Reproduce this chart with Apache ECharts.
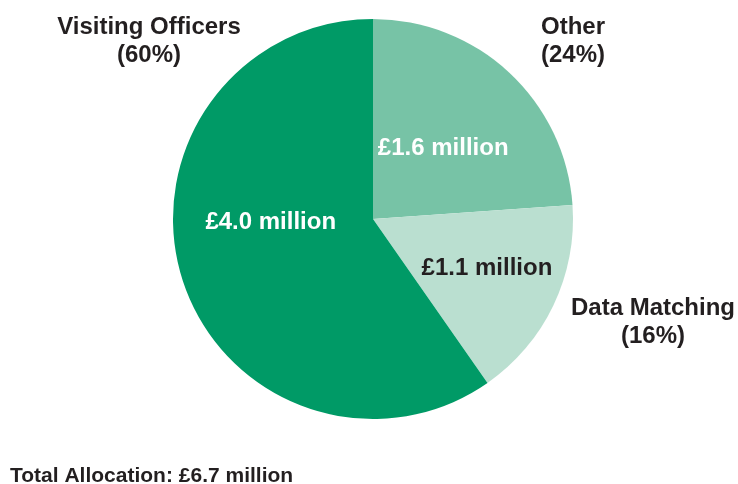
<!DOCTYPE html>
<html>
<head>
<meta charset="utf-8">
<script src="https://cdn.jsdelivr.net/npm/echarts@6/dist/echarts.min.js"></script>
<style>
  html, body { margin: 0; padding: 0; background: #ffffff; }
  #chart { width: 738px; height: 484px; }
</style>
</head>
<body>
<div id="chart"></div>
<script>
// Allocation by category, £ million (clockwise from 12 o'clock)
const categories = ['Other', 'Data Matching', 'Visiting Officers'];
const values = [1.6, 1.1, 4.0];
const colors = ['#77c3a6', '#badfd0', '#009a66'];
const totalLabel = 'Total Allocation: £6.7 million';

const total = values.reduce((a, b) => a + b, 0);
const pct = values.map(v => Math.round(v / total * 100));

// Label placement for the money figure inside each slice
const innerOffsets = [[0, 5], [21, 5], [-4, -28]];
const innerColors = ['#ffffff', '#231f20', '#ffffff'];
// Category captions outside the pie
const outerPos = [[573, 13], [653, 294], [149, 13]];

const font = '"Liberation Sans", Arial, sans-serif';

const chart = echarts.init(document.getElementById('chart'), null, { renderer: 'canvas' });

chart.setOption({
  animation: false,
  backgroundColor: '#ffffff',
  series: [{
    type: 'pie',
    center: [373, 219],
    radius: [0, 200],
    startAngle: 90,
    clockwise: true,
    silent: true,
    itemStyle: { borderWidth: 0 },
    labelLine: { show: false },
    data: categories.map((name, i) => ({
      name: name,
      value: values[i],
      itemStyle: { color: colors[i] },
      label: {
        show: true,
        position: 'inside',
        offset: innerOffsets[i],
        formatter: '£' + values[i].toFixed(1) + ' million',
        color: innerColors[i],
        fontFamily: font,
        fontWeight: 'bold',
        fontSize: 24
      }
    }))
  }],
  graphic: categories.map((name, i) => ({
    type: 'text',
    x: outerPos[i][0],
    y: outerPos[i][1],
    style: {
      text: name + '\n(' + pct[i] + '%)',
      align: 'center',
      verticalAlign: 'top',
      fill: '#231f20',
      font: 'bold 24px ' + font,
      lineHeight: 28
    }
  })).concat([{
    type: 'text',
    x: 10,
    y: 476,
    style: {
      text: totalLabel,
      align: 'left',
      verticalAlign: 'middle',
      fill: '#231f20',
      font: 'bold 21px ' + font
    }
  }])
});
</script>
</body>
</html>
